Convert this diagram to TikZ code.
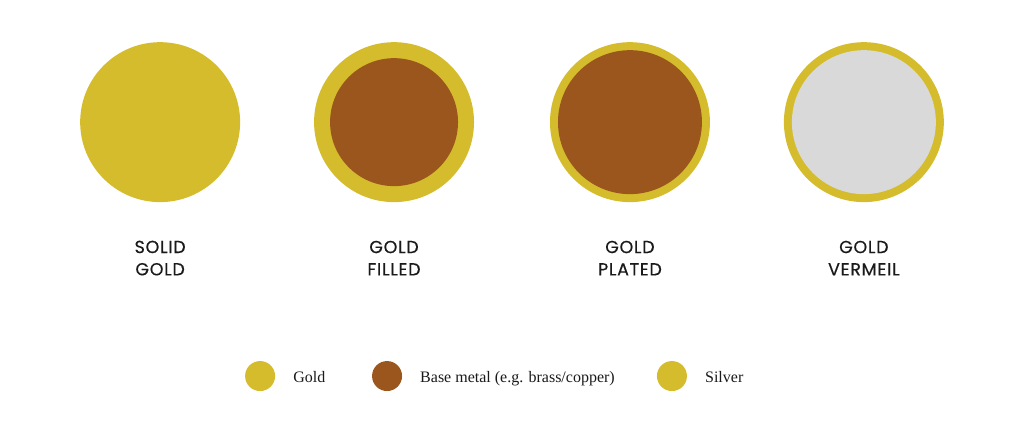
\documentclass[tikz,border=0pt]{standalone}
\usepackage{fontspec}
\setmainfont{Liberation Serif}
\newfontfamily\labelfont[LetterSpace=4,FakeBold=0.3]{Poppins}
\definecolor{goldcol}{RGB}{212,188,44}
\definecolor{basecol}{RGB}{155,86,30}
\definecolor{silvercol}{RGB}{217,217,217}
\definecolor{inkcol}{RGB}{26,26,26}
\tikzset{
  cointext/.style={align=center,text=inkcol,inner sep=0pt,
    font=\labelfont\fontsize{17.5}{22.3}\selectfont},
  keytext/.style={anchor=base west,text=inkcol,inner sep=0pt,
    font=\fontsize{16}{19}\selectfont},
}
\begin{document}
\begin{tikzpicture}[x=1pt,y=1pt]
\filldraw[color=white] (0,0) rectangle (1024,424);
% Drawing coins
% Coin 1: solid gold
\fill[goldcol] (160,302) circle (80);
\node[cointext] (solid) at (160,166) {SOLID\\GOLD};
% Coin 2: gold filled
\fill[goldcol] (394,302) circle (80);
\fill[basecol] (394,302) circle (64);
\node[cointext] (filled) at (394,166) {GOLD\\FILLED};
% Coin 3: gold plated
\fill[goldcol] (630,302) circle (80);
\fill[basecol] (630,302) circle (72);
\node[cointext] (plated) at (630,166) {GOLD\\PLATED};
% Coin 4: gold vermeil
\fill[goldcol] (864,302) circle (80);
\fill[silvercol] (864,302) circle (72);
\node[cointext] (vermeil) at (864,166) {GOLD\\VERMEIL};
% Done with coins; drawing legend
\fill[goldcol] (260,48) circle (15);
\node[keytext] (goldkey) at (293,42) {Gold};
\fill[basecol] (387,48) circle (15);
\node[keytext] (basekey) at (420,42) {Base metal (e.g. brass/copper)};
\fill[goldcol] (672,48) circle (15);
\node[keytext] (silverkey) at (705,42) {Silver};
% Done with legend
\end{tikzpicture}
\end{document}
